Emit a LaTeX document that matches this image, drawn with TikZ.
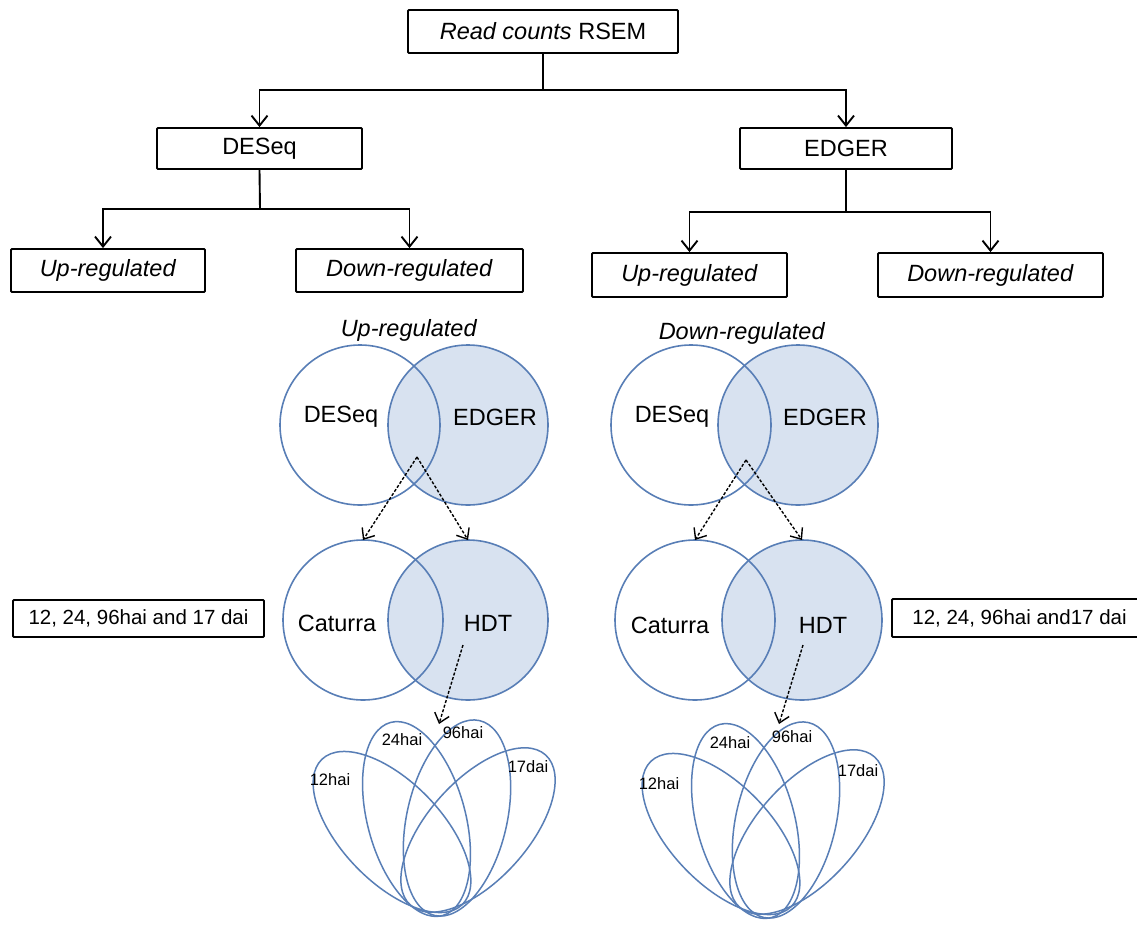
\documentclass[tikz,border=0pt]{standalone}
\usepackage{fontspec}
\setmainfont{Liberation Sans}
\usetikzlibrary{arrows.meta}
\definecolor{vline}{RGB}{88,126,182}
\definecolor{vfill}{RGB}{216,226,240}
\begin{document}
\begin{tikzpicture}[x=1pt,y=-1pt,
  box/.style={draw, line width=1.8pt, inner sep=0pt, rounded corners=1pt, font=\fontsize{23.5}{28}\selectfont},
  sbox/.style={draw, line width=1.8pt, inner sep=0pt, rounded corners=1pt, font=\fontsize{20.5}{24}\selectfont},
  conn/.style={line width=1.9pt},
  arr/.style={conn,-{Straight Barb[length=10pt,width=16pt]}},
  dsh/.style={line width=1.4pt, dash pattern=on 3pt off 1.8pt, -{Straight Barb[length=9pt,width=15pt]}},
  vcirc/.style={circle, draw=vline, line width=1.6pt, minimum size=160pt, inner sep=0pt, outer sep=0pt},
  petal/.style={draw=vline, line width=1.5pt},
  lbl/.style={font=\fontsize{23.5}{28}\selectfont},
  plbl/.style={font=\fontsize{16.5}{19}\selectfont, inner sep=1pt},
]
\useasboundingbox (0,0) rectangle (1137,926);
\fill[white] (0,0) rectangle (1137,926);

% ---------- tree ----------
\node[box, minimum width=270pt, minimum height=43pt] (rsem) at (543,31.5) {\textit{Read counts} RSEM};
\node[box, minimum width=205pt, minimum height=41pt] (deseq) at (259.5,148.5) {DESeq};
\node[box, minimum width=212pt, minimum height=41pt] (edger) at (846,148.5) {EDGER};
\node[box, minimum width=194pt, minimum height=43pt] (up1) at (108,270.5) {\textit{Up-regulated}};
\node[box, minimum width=227pt, minimum height=43pt] (down1) at (409.5,270.5) {\textit{Down-regulated}};
\node[box, minimum width=195pt, minimum height=44pt] (up2) at (689.5,275) {\textit{Up-regulated}};
\node[box, minimum width=225pt, minimum height=44pt] (down2) at (990.5,275) {\textit{Down-regulated}};

\coordinate (j0) at (543,90);
\coordinate (j1) at (260,209);
\coordinate (j2) at (846,212);
\draw[conn] (rsem.south) -- (j0);
\draw[arr] (j0) -| (deseq.north);
\draw[arr] (j0) -| (edger.north);
\draw[conn] (deseq.south) -- (j1);
\draw[arr] (j1) -| ([xshift=-5pt]up1.north);
\draw[arr] (j1) -| (down1.north);
\draw[conn] (edger.south) -- (j2);
\draw[arr] (j2) -| (up2.north);
\draw[arr] (j2) -| (down2.north);

% ---------- side boxes ----------
\node[sbox, minimum width=251pt, minimum height=37pt] (lbox) at (138.5,618.5) {12, 24, 96hai and 17 dai};
\node[sbox, minimum width=255pt, minimum height=38pt] (rbox) at (1019.5,618) {12, 24, 96hai and17 dai};

% ---------- Venn titles ----------
\node[lbl] (tup) at (409,330) {\textit{Up-regulated}};
\node[lbl] (tdown) at (742,333) {\textit{Down-regulated}};

% ---------- Venn 1 (up) ----------
\node[vcirc, fill=vfill] (u1e) at (468,425) {};
\node[vcirc] (u1d) at (360,425) {};
\node[lbl] (u1dl) at (341,417) {DESeq};
\node[lbl] (u1el) at (495,417) {EDGER};
\node[vcirc, fill=vfill] (u2h) at (468,620) {};
\node[vcirc] (u2c) at (363,620) {};
\node[lbl] (u2cl) at (337,623) {Caturra};
\node[lbl] (u2hl) at (488,623) {HDT};
\coordinate (u1s) at (417,457);
\draw[dsh] (u1s) -- (u2c.north);
\draw[dsh] (u1s) -- (u2h.north);
\coordinate (u2s) at (463,645);
\coordinate (u2t) at (439,724);
\draw[dsh] (u2s) -- (u2t);

% ---------- Venn 2 (down) ----------
\node[vcirc, fill=vfill] (d1e) at (798,425) {};
\node[vcirc] (d1d) at (691,425) {};
\node[lbl] (d1dl) at (672,417) {DESeq};
\node[lbl] (d1el) at (825,417) {EDGER};
\node[vcirc, fill=vfill] (d2h) at (802,620) {};
\node[vcirc] (d2c) at (695,620) {};
\node[lbl] (d2cl) at (670,625) {Caturra};
\node[lbl] (d2hl) at (823,625) {HDT};
\coordinate (d1s) at (746,460);
\draw[dsh] (d1s) -- (d2c.north);
\draw[dsh] (d1s) -- (d2h.north);
\coordinate (d2s) at (803,645);
\coordinate (d2t) at (779,724);
\draw[dsh] (d2s) -- (d2t);

% ---------- petals ----------
\begin{scope}[shift={(434,918)}]
  \draw[petal, rotate around={44:(-42,-86)}] (-42,-86) ellipse [x radius=50pt, y radius=101pt];
  \draw[petal, rotate around={15:(-17.5,-99)}] (-17.5,-99) ellipse [x radius=49pt, y radius=100pt];
  \draw[petal, rotate around={-13:(23,-100)}] (23,-100) ellipse [x radius=50pt, y radius=100pt];
  \draw[petal, rotate around={-42:(44,-88)}] (44,-88) ellipse [x radius=50pt, y radius=101pt];
  \node[plbl] (ua) at (-104,-138) {12hai};
  \node[plbl] (ub) at (-32,-178) {24hai};
  \node[plbl] (uc) at (29,-185) {96hai};
  \node[plbl] (ud) at (94,-151) {17dai};
\end{scope}
\begin{scope}[shift={(763,920)}]
  \draw[petal, rotate around={44:(-42,-86)}] (-42,-86) ellipse [x radius=50pt, y radius=101pt];
  \draw[petal, rotate around={15:(-17.5,-99)}] (-17.5,-99) ellipse [x radius=49pt, y radius=100pt];
  \draw[petal, rotate around={-13:(23,-100)}] (23,-100) ellipse [x radius=50pt, y radius=100pt];
  \draw[petal, rotate around={-42:(44,-88)}] (44,-88) ellipse [x radius=50pt, y radius=101pt];
  \node[plbl] (da) at (-104,-136) {12hai};
  \node[plbl] (db) at (-33,-177) {24hai};
  \node[plbl] (dc) at (29,-183) {96hai};
  \node[plbl] (dd) at (95,-149) {17dai};
\end{scope}
\end{tikzpicture}
\end{document}
